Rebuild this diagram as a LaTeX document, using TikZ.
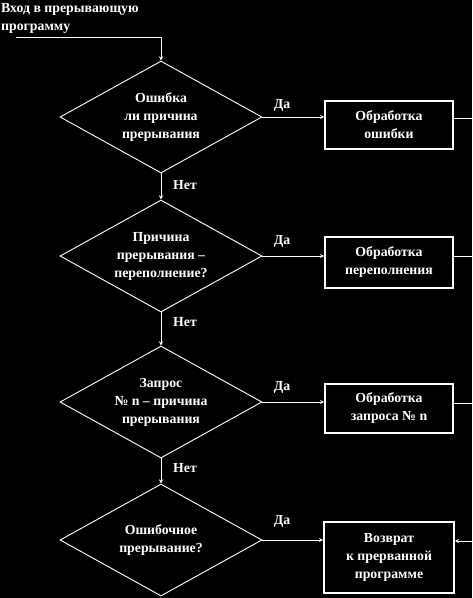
\documentclass[tikz,border=0pt]{standalone}
\usepackage{fontspec}
\setmainfont{Liberation Serif}
\usetikzlibrary{
		shapes.geometric,
		positioning
	}
\tikzset{
		>=stealth
	}

\begin{document}
\begin{tikzpicture}[x=1pt, y=-1pt,
        every node/.style={text=white, font=\fontsize{13.8}{18}\selectfont\bfseries},
        ask/.style={draw=white, line width=0.9pt, diamond, aspect=1.8, minimum width=202pt, minimum height=112pt, inner sep=0pt, align=center},
        act/.style={draw=white, line width=1.6pt, minimum width=128pt, inner sep=0pt, align=center},
        flow/.style={draw=white, line width=0.9pt}]
            \fill[black] (0,0) rectangle (472,598);
            \useasboundingbox (0,0) rectangle (472,598);

            % entry
            \node[anchor=north west, align=left, inner sep=0pt] (entry) at (1,3) {Вход в прерывающую\\программу};
            \coordinate (in) at (16,37);

            % questions
            \node[ask] (d1) at (161,117) {Ошибка\\ли причина\\прерывания};
            \node[ask] (d2) at (161,256) {Причина\\прерывания –\\переполнение?};
            \node[ask] (d3) at (161,402) {Запрос\\№ n – причина\\прерывания};
            \node[ask] (d4) at (161,540) {Ошибочное\\прерывание?};

            % actions
            \node[act, minimum height=48pt] (b1) at (389,125) {Обработка\\ошибки};
            \node[act, minimum height=51pt] (b2) at (389,262.5) {Обработка\\переполнения};
            \node[act, minimum height=49pt] (b3) at (389,408.5) {Обработка\\запроса № n};
            \node[act, minimum width=130pt, minimum height=71pt] (b4) at (389,557.5) {Возврат\\к прерванной\\программе};

            % labels
            \node (yes1) at (282,105) {Да};
            \node (yes2) at (282,241) {Да};
            \node (yes3) at (282,387) {Да};
            \node (yes4) at (282,521) {Да};
            \node (no1) at (185,185) {Нет};
            \node (no2) at (185,322) {Нет};
            \node (no3) at (185,468) {Нет};

            % right edge
            \coordinate (r1) at (472,118);
            \coordinate (r2) at (472,256);
            \coordinate (r3) at (472,403);
            \coordinate (r4) at (472,541);

            \draw[flow, ->] (in) -| (d1.north);
            \draw[flow, ->] (d1.south) -- (d2.north);
            \draw[flow, ->] (d2.south) -- (d3.north);
            \draw[flow, ->] (d3.south) -- (d4.north);

            \draw[flow, ->] (d1.east) -- (d1.east -| b1.west);
            \draw[flow, ->] (d2.east) -- (d2.east -| b2.west);
            \draw[flow, ->] (d3.east) -- (d3.east -| b3.west);
            \draw[flow, ->] (d4.east) -- (d4.east -| b4.west);

            \draw[flow] (r1 -| b1.east) -- (r1);
            \draw[flow] (r2 -| b2.east) -- (r2);
            \draw[flow] (r3 -| b3.east) -- (r3);
            \draw[flow, ->] (r4) -- (r4 -| b4.east);
\end{tikzpicture}
\end{document}
